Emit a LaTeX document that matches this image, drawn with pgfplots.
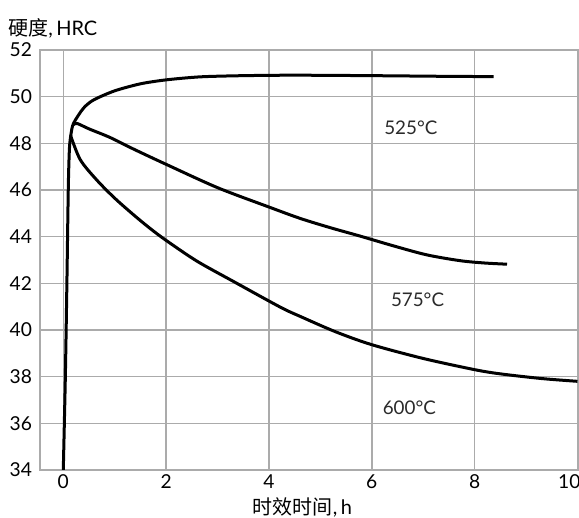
\documentclass[border=0pt]{standalone}
\usepackage{pgfplots}
\pgfplotsset{compat=1.18}
\usepackage{fontspec}
\setmainfont{Lato}
\newfontfamily\cjk{Noto Sans CJK SC}
\definecolor{gridc}{HTML}{ABABAB}
\definecolor{lab}{HTML}{2A2A2A}
\begin{document}
\begin{tikzpicture}
\begin{axis}[
  at={(0,0)}, anchor=south west,
  scale only axis, width=269.5pt, height=210pt,
  xmin=-0.453, xmax=10.03, ymin=34, ymax=52,
  xtick={0,2,4,6,8,10}, ytick={34,36,38,40,42,44,46,48,50,52},
  xticklabels={0,2,4,6,8,\hbox to 0pt{\hss 10\kern-1.5pt}},
  grid=major,
  grid style={draw=gridc, line width=0.75pt},
  axis line style={draw=gridc, line width=0.75pt},
  tick align=inside, major tick length=2pt,
  xtick pos=bottom, ytick pos=left,
  major tick style={draw=gridc, line width=0.75pt},
  /pgf/number format/assume math mode=true,
  tick label style={font=\fontsize{9.6}{10}\selectfont, black},
  xticklabel style={yshift=1pt},
  yticklabel style={xshift=-0.5pt},
]
% 525 C (with initial rise)
\addplot[black, line width=1.5pt, smooth, tension=0.45] coordinates {
 (0.0,34) (0.04,38) (0.07,42) (0.085,44.3) (0.1,46.4) (0.12,47.8) (0.15,48.4)
 (0.2,48.86) (0.39,49.5) (0.59,49.86) (1.0,50.25) (1.5,50.55) (2.0,50.72)
 (2.67,50.85) (3.5,50.9) (4.5,50.92) (6.0,50.9) (7.5,50.87) (8.37,50.86)};
% 575 C
\addplot[black, line width=1.5pt, smooth, tension=0.5] coordinates {
 (0.2,48.8) (0.27,48.85) (0.5,48.62) (0.91,48.25) (1.37,47.75) (2.0,47.1)
 (3.0,46.1) (4.0,45.27) (4.61,44.78) (5.2,44.38) (5.78,44.02) (6.43,43.6)
 (7.07,43.22) (7.72,42.97) (8.2,42.87) (8.63,42.82)};
% 600 C
\addplot[black, line width=1.5pt, smooth, tension=0.5] coordinates {
 (0.14,48.35) (0.33,47.3) (0.65,46.43) (1.0,45.65) (1.37,44.93) (1.69,44.35)
 (2.0,43.84) (2.6,42.95) (3.31,42.08) (4.22,40.98) (4.61,40.58) (5.3,39.92)
 (6.0,39.37) (7.0,38.78) (8.0,38.3) (8.5,38.12) (9.3,37.92) (10.0,37.8)};
\node[lab, font=\fontsize{9.4}{10}\selectfont] at (axis cs:6.76,48.65) {525°C};
\node[lab, font=\fontsize{9.4}{10}\selectfont] at (axis cs:6.89,41.3) {575°C};
\node[lab, font=\fontsize{9.4}{10}\selectfont] at (axis cs:6.73,36.65) {600°C};
\end{axis}
\node[anchor=west, inner sep=0pt, font=\fontsize{10}{11}\selectfont] at (-16pt,221pt) {{\cjk 硬度},\,HRC};
\node[inner sep=0pt, font=\fontsize{10}{11}\selectfont] at (131.25pt,-18.8pt) {{\cjk 时效时间},\,h};
\pgfresetboundingbox
\useasboundingbox (-20pt,-24pt) rectangle (269.5pt,235pt);
\end{tikzpicture}
\end{document}
